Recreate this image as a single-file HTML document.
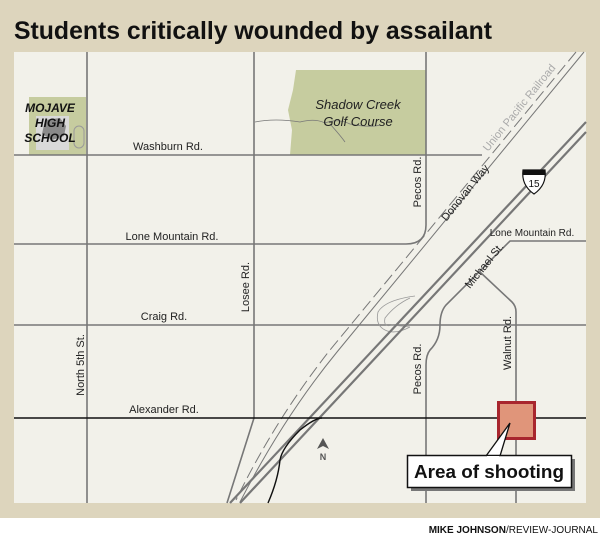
<!DOCTYPE html>
<html><head><meta charset="utf-8"><style>
html,body{margin:0;padding:0;background:#fff;}
svg{display:block;}
text{font-family:"Liberation Sans",sans-serif;}
</style></head><body>
<svg width="600" height="537" viewBox="0 0 600 537" xmlns="http://www.w3.org/2000/svg">
<rect x="0" y="0" width="600" height="518" fill="#ddd5bd"/>
<text x="14" y="39" font-size="25" font-weight="bold" fill="#111" textLength="478" lengthAdjust="spacingAndGlyphs">Students critically wounded by assailant</text>
<rect x="14" y="52" width="572" height="451" fill="#f2f1ea"/>
<!-- golf course -->
<path d="M296,70 L426,70 L426,155 L290,155 L292,130 L288,110 L293,90 Z" fill="#c6cc9f"/>
<path d="M255,122 Q275,118 300,122 Q315,118 325,123 Q338,118 350,124 Q370,128 380,125 M330,124 Q340,135 345,142" fill="none" stroke="#777" stroke-width="0.8"/>
<!-- school -->
<rect x="29" y="97" width="57" height="58" fill="#c6cc9f"/>
<rect x="36" y="116" width="33" height="34" fill="#d9d9d9"/>
<path d="M45,120 L60,118 L66,126 L64,136 L52,140 L42,134 Z" fill="#8a8a8a"/>
<rect x="74" y="126" width="10" height="22" rx="5" fill="none" stroke="#999" stroke-width="1"/>
<g font-size="12" font-weight="bold" font-style="italic" fill="#111" text-anchor="middle">
<text x="50" y="112">MOJAVE</text><text x="50" y="127">HIGH</text><text x="50" y="142">SCHOOL</text></g>
<!-- roads gray -->
<g stroke="#777" stroke-width="1.6" fill="none">
<line x1="87" y1="52" x2="87" y2="503"/>
<path d="M254,52 L254,418 L227,503"/>
<line x1="14" y1="155" x2="482" y2="155"/>
<path d="M426,52 L426,225 Q426,244 406,244 L14,244"/>
<line x1="14" y1="325" x2="586" y2="325"/>
<path d="M586,241 L510,241 L446,305 Q440,312 440,325 Q440,340 430,350 Q426,355 426,365 L426,503"/>
<path d="M480,272 L512,302 Q516,306 516,312 L516,503"/>
</g>
<!-- interchange loop -->
<g stroke="#999" stroke-width="0.8" fill="none">
<path d="M415,296 Q385,300 378,312 Q375,325 385,330 Q395,335 410,327"/>
<path d="M410,298 Q395,305 385,318 Q383,328 392,325"/>
<path d="M392,325 L410,327"/>
</g>
<!-- railroad and Donovan -->
<path d="M576,52 L330,350 Q275,420 236,500" fill="none" stroke="#777" stroke-width="1" stroke-dasharray="12,5"/>
<path d="M584,52 L337,352 Q283,418 240,502" fill="none" stroke="#777" stroke-width="1"/>
<!-- I-15 -->
<line x1="586" y1="122" x2="230" y2="503" stroke="#777" stroke-width="2.2"/>
<line x1="586" y1="132" x2="240" y2="503" stroke="#777" stroke-width="2.2"/>
<!-- Alexander (black) -->
<line x1="14" y1="418" x2="586" y2="418" stroke="#111" stroke-width="1.4"/>
<path d="M322,418 Q315,418 300,430 Q282,448 280,460 Q278,480 268,503" fill="none" stroke="#111" stroke-width="1.4"/>
<!-- shield -->
<path d="M523,170 L545,170 Q547,185 534,194 Q521,185 523,170 Z" fill="#fff" stroke="#111" stroke-width="1.2"/>
<path d="M523,170 L545,170 L545,175 L523,175 Z" fill="#111"/>
<text x="534" y="187" font-size="10" text-anchor="middle" fill="#111">15</text>
<!-- labels -->
<g font-size="11" fill="#222">
<text x="168" y="150" text-anchor="middle">Washburn Rd.</text>
<text x="172" y="240" text-anchor="middle">Lone Mountain Rd.</text>
<text x="164" y="320" text-anchor="middle">Craig Rd.</text>
<text x="164" y="413" text-anchor="middle">Alexander Rd.</text>
<text x="532" y="236" text-anchor="middle" font-size="10">Lone Mountain Rd.</text>
<text transform="translate(84,365) rotate(-90)" text-anchor="middle">North 5th St.</text>
<text transform="translate(249,287) rotate(-90)" text-anchor="middle">Losee Rd.</text>
<text transform="translate(421,182) rotate(-90)" text-anchor="middle">Pecos Rd.</text>
<text transform="translate(421,369) rotate(-90)" text-anchor="middle">Pecos Rd.</text>
<text transform="translate(511,343) rotate(-90)" text-anchor="middle">Walnut Rd.</text>
<text transform="translate(468,195) rotate(-51)" text-anchor="middle">Donovan Way</text>
<text transform="translate(487,268) rotate(-51)" text-anchor="middle">Michael St.</text>
<text transform="translate(522,110) rotate(-51)" text-anchor="middle" fill="#aaa">Union Pacific Railroad</text>
</g>
<g font-size="13" font-style="italic" fill="#222" text-anchor="middle">
<text x="358" y="109">Shadow Creek</text><text x="358" y="126">Golf Course</text></g>
<!-- north arrow -->
<path d="M323,438 L317,449 L323,446 L329,449 Z" fill="#555"/>
<text x="323" y="460" font-size="9" font-weight="bold" fill="#555" text-anchor="middle">N</text>
<!-- area -->
<rect x="498.5" y="402.5" width="36" height="36" fill="#e0957a" stroke="#a8262e" stroke-width="3"/>
<rect x="411" y="459" width="164" height="32" fill="#777"/>
<path d="M486,456 L510,423 L500,456" fill="#fff" stroke="#111" stroke-width="1.3"/>
<rect x="407.5" y="455.5" width="164" height="32" fill="#fff" stroke="#111" stroke-width="1.5"/>
<path d="M487,457 L499,457" stroke="#fff" stroke-width="2"/>
<text x="489" y="478" font-size="18" font-weight="bold" fill="#111" text-anchor="middle" textLength="150" lengthAdjust="spacingAndGlyphs">Area of shooting</text>
<text x="598" y="533" font-size="10" fill="#111" text-anchor="end"><tspan font-weight="bold">MIKE JOHNSON</tspan>/REVIEW-JOURNAL</text>
</svg>
</body></html>
